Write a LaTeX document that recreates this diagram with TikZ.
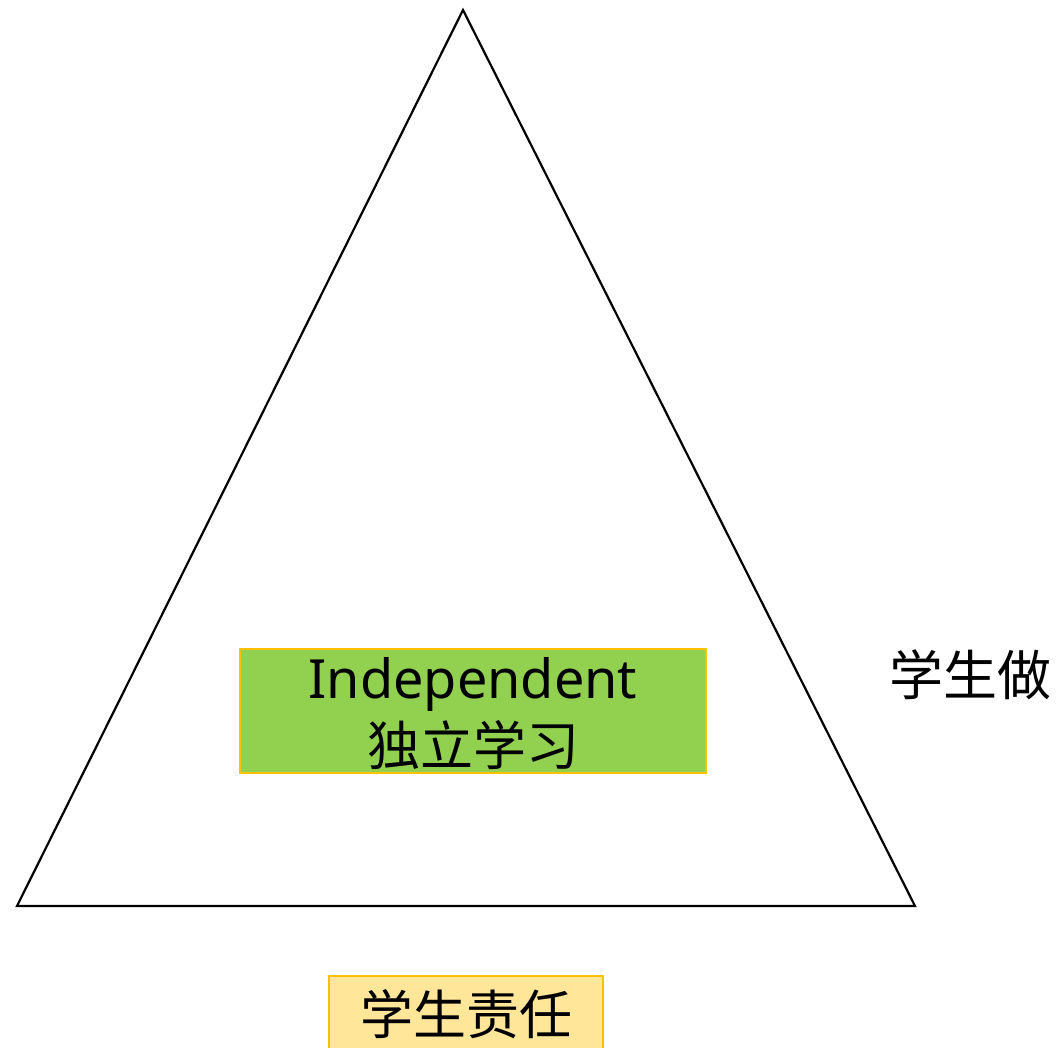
\documentclass[tikz,border=0pt]{standalone}
\usepackage{fontspec}
\setmainfont{Noto Sans}
\newfontfamily\cjk{Noto Sans CJK SC}
\definecolor{boxgreen}{HTML}{92D050}
\definecolor{boxgold}{HTML}{FFC000}
\definecolor{boxyellow}{HTML}{FFE699}
\begin{document}
\begin{tikzpicture}[x=1pt,y=-1pt,
  tri/.style={draw=black,line width=2.2pt,line join=miter},
  greenbox/.style={fill=boxgreen,draw=boxgold,line width=2pt},
  yellowbox/.style={fill=boxyellow,draw=boxgold,line width=2pt}]
\useasboundingbox (0,0) rectangle (1059,1048);
\coordinate (apex) at (463,10);
\coordinate (bl) at (17,906);
\coordinate (br) at (915,906);
\draw[tri] (apex) -- (bl) -- (br) -- cycle;
\path[greenbox] (240,649) rectangle (706,773);
\node (ind) at (473,684) {\fontsize{54}{60}\selectfont Independent};
\node (dl) at (473,745) {\cjk\fontsize{53}{60}\selectfont 独立学习};
\path[yellowbox] (329,976) rectangle (603,1060);
\node (xszr) at (466,1014) {\cjk\fontsize{53}{60}\selectfont 学生责任};
\node (xsz) at (970,675) {\cjk\fontsize{54}{60}\selectfont 学生做};
\end{tikzpicture}
\end{document}
